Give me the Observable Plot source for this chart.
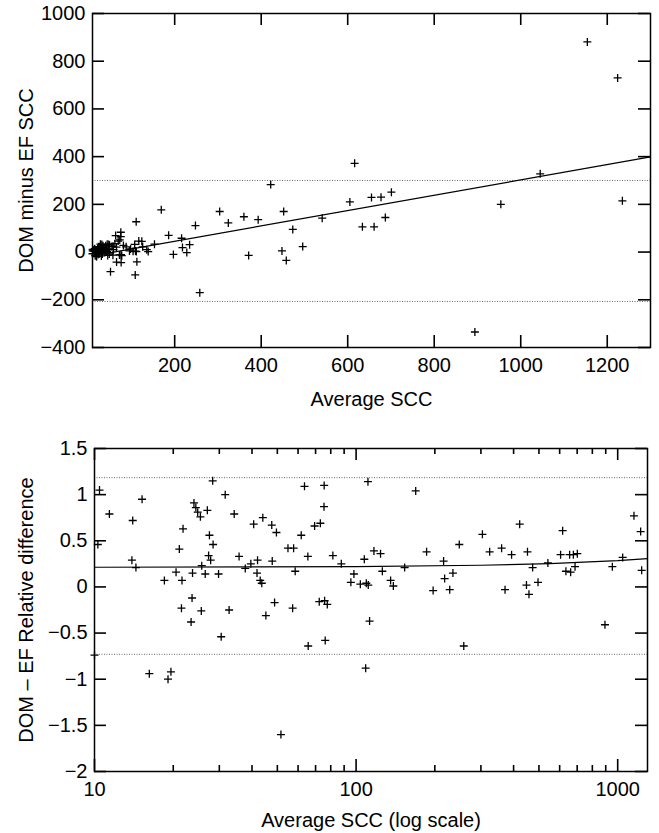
<!DOCTYPE html>
<html>
<head>
<meta charset="utf-8">
<script src="https://cdn.jsdelivr.net/npm/d3@7"></script>
<script src="https://cdn.jsdelivr.net/npm/@observablehq/plot@0.6"></script>
<style>
  html, body { margin: 0; padding: 0; background: #fff; overflow: hidden; }
  #chart { font-family: 'Liberation Sans', Arial, sans-serif; }
  #chart svg { display: block; }
</style>
</head>
<body>
<div id="chart"></div>
<script>
// Average SCC of the two methods (x), relative difference (bottom panel), absolute difference (top panel)
const avg = [10.45, 10.3, 10.0, 11.4, 14.0, 13.9, 14.4, 15.2, 16.2, 18.5,
  19.1, 19.6, 20.5, 21.1, 21.5, 21.6, 21.8, 23.4, 23.6, 23.7,
  24.0, 24.4, 24.8, 25.4, 25.6, 25.7, 26.5, 27.0, 27.3, 27.5,
  27.8, 28.3, 28.4, 29.8, 30.5, 31.6, 32.7, 34.2, 35.7, 37.7,
  39.6, 40.6, 41.8, 42.0, 43.0, 43.6, 44.0, 45.2, 47.6, 47.8,
  48.8, 49.6, 51.6, 54.9, 57.2, 57.7, 58.5, 61.7, 63.5, 65.4,
  65.6, 69.4, 72.3, 73.0, 75.5, 75.4, 75.8, 76.2, 77.6, 81.5,
  87.8, 95.5, 98.1, 103.8, 107.5, 108.8, 109.4, 111.0, 111.3, 112.6,
  117, 124, 126, 135.5, 138.8, 153.3, 169, 186, 197, 216,
  218, 228, 234.5, 248, 258, 304, 324, 360, 371, 393,
  422, 448, 452, 458, 473, 496, 541, 605, 616, 634,
  655, 661, 677, 687, 701, 894, 954, 1045, 1154, 1224, 1235];
const rel = [1.05, 0.46, -0.74, 0.79, 0.72, 0.29, 0.21, 0.95, -0.94, 0.07,
  -1.0, -0.92, 0.16, 0.41, -0.23, 0.07, 0.63, -0.38, -0.12, 0.15,
  0.91, 0.86, 0.81, 0.76, -0.26, 0.23, 0.14, 0.83, 0.34, 0.56,
  0.29, 1.15, 0.46, 0.14, -0.54, 1.0, -0.25, 0.79, 0.33, 0.2,
  0.25, 0.68, 0.15, 0.29, 0.07, 0.04, 0.75, -0.31, 0.67, 0.28,
  -0.17, 0.59, -1.6, 0.42, -0.23, 0.42, 0.17, 0.56, 1.09, 0.33,
  -0.64, 0.66, -0.16, 0.69, 1.1, 0.87, -0.15, -0.58, -0.19, 0.34,
  0.25, 0.05, 0.14, 0.03, 0.30, -0.88, 0.04, 1.14, 0.02, -0.37,
  0.39, 0.36, 0.17, 0.07, 0.01, 0.21, 1.04, 0.38, -0.04, 0.28,
  0.09, -0.03, 0.15, 0.46, -0.64, 0.57, 0.38, 0.42, -0.03, 0.35,
  0.68, 0.02, 0.38, -0.08, 0.21, 0.05, 0.26, 0.35, 0.61, 0.17,
  0.35, 0.16, 0.35, 0.22, 0.36, -0.41, 0.22, 0.32, 0.77, 0.60, 0.18];
const diff = [11, 5, -7, 9, 10, 4, 3, 14, -15, 1,
  -19, -18, 3, 9, -5, 2, 14, -9, -3, 4,
  22, 21, 20, 19, -7, 6, 4, 22, 9, 15,
  8, 33, 13, 4, -16, 32, -8, 27, 12, 8,
  10, 27, 6, 12, 3, 2, 33, -14, 32, 13,
  -8, 29, -82, 23, -13, 24, 10, 35, 69, 21,
  -42, 46, -12, 51, 83, 65, -11, -44, -15, 28,
  22, 5, 13, 3, 32, -96, 4, 127, 2, -41,
  46, 45, 22, 10, 2, 33, 177, 70, -10, 58,
  19, -2, 31, 111, -170, 170, 122, 148, -14, 136,
  283, 5, 170, -35, 95, 23, 142, 210, 372, 106,
  229, 106, 230, 145, 251, -335, 200, 328, 881, 730, 215];

// Regression lines and limits of agreement
const fitTopX = [10, 1300];
const fitTopY = [-16, 399];
const fitRelX = [10, 100, 300, 550, 1000, 1300];
const fitRelY = [0.213, 0.22, 0.235, 0.253, 0.285, 0.307];
const limitsTop = [300, -207];
const limitsRel = [1.184, -0.73];

// Tick values
const topXTicks = [200, 400, 600, 800, 1000, 1200];
const topYTicks = [-400, -200, 0, 200, 400, 600, 800, 1000];
const relXMajor = [10, 100, 1000];
const relXMinor = [20, 30, 40, 50, 60, 70, 80, 90, 200, 300, 400, 500, 600, 700, 800, 900];
const relYTicks = [-2, -1.5, -1, -0.5, 0, 0.5, 1, 1.5];

const data = avg.map((a, i) => ({avg: a, rel: rel[i], diff: diff[i]}));
const fitTop = fitTopX.map((x, i) => ({x, y: fitTopY[i]}));
const fitRel = fitRelX.map((x, i) => ({x, y: fitRelY[i]}));

const cross = {
  draw(ctx, size) {
    const h = Math.sqrt(size / Math.PI);
    ctx.moveTo(-h, 0); ctx.lineTo(h, 0);
    ctx.moveTo(0, -h); ctx.lineTo(0, h);
  }
};
const fmt = d => d < 0 ? "\u2212" + String(-d) : String(d);
const dotted = {stroke: "#444", strokeWidth: 0.8, strokeDasharray: "1,1.5"};
const tk = {stroke: "black", strokeWidth: 1.6};

// inward, mirrored ticks as rule marks shortened with insets
function tickMarks(xTicks, yTicks, innerW, innerH, len, xMinor, minorLen) {
  const m = [
    Plot.ruleX(xTicks, {...tk, insetTop: innerH - len}),
    Plot.ruleX(xTicks, {...tk, insetBottom: innerH - len}),
    Plot.ruleY(yTicks, {...tk, insetRight: innerW - len}),
    Plot.ruleY(yTicks, {...tk, insetLeft: innerW - len})
  ];
  if (xMinor) {
    m.push(Plot.ruleX(xMinor, {...tk, insetTop: innerH - minorLen}));
    m.push(Plot.ruleX(xMinor, {...tk, insetBottom: innerH - minorLen}));
  }
  return m;
}

const W = 659;

// ---------- Top panel ----------
const tp = {h: 420, ml: 92, mr: 9, mt: 13, mb: 73};
const topPanel = Plot.plot({
  width: W, height: tp.h,
  marginLeft: tp.ml, marginRight: tp.mr, marginTop: tp.mt, marginBottom: tp.mb,
  style: {fontFamily: "'Liberation Sans', Arial, sans-serif", fontSize: "20px"},
  x: {type: "linear", domain: [10, 1300]},
  y: {type: "linear", domain: [-400, 1000]},
  marks: [
    Plot.ruleY(limitsTop, dotted),
    Plot.line(fitTop, {x: "x", y: "y", stroke: "black", strokeWidth: 1.2}),
    Plot.dot(data, {x: "avg", y: "diff", symbol: cross, r: 4, fill: "none", stroke: "black", strokeWidth: 1.3}),
    tickMarks(topXTicks, topYTicks, W - tp.ml - tp.mr, tp.h - tp.mt - tp.mb, 12, null, 0),
    Plot.axisX(topXTicks, {tickSize: 0, tickPadding: 10, tickFormat: fmt, label: "Average SCC", labelAnchor: "center", labelArrow: "none", labelOffset: 58}),
    Plot.axisY(topYTicks, {tickSize: 0, tickPadding: 7, tickFormat: fmt, label: "DOM minus EF SCC", labelAnchor: "center", labelArrow: "none", labelOffset: 74}),
    Plot.frame({stroke: "black", strokeWidth: 1.5})
  ]
});

// ---------- Bottom panel ----------
const bp = {h: 413, ml: 94, mr: 12, mt: 28, mb: 62};
const bottomPanel = Plot.plot({
  width: W, height: bp.h,
  marginLeft: bp.ml, marginRight: bp.mr, marginTop: bp.mt, marginBottom: bp.mb,
  style: {fontFamily: "'Liberation Sans', Arial, sans-serif", fontSize: "20px"},
  x: {type: "log", domain: [10, 1300]},
  y: {type: "linear", domain: [-2, 1.5]},
  marks: [
    Plot.ruleY(limitsRel, dotted),
    Plot.line(fitRel, {x: "x", y: "y", stroke: "black", strokeWidth: 1.2}),
    Plot.dot(data, {x: "avg", y: "rel", symbol: cross, r: 4, fill: "none", stroke: "black", strokeWidth: 1.3}),
    tickMarks(relXMajor, relYTicks, W - bp.ml - bp.mr, bp.h - bp.mt - bp.mb, 12, relXMinor, 6),
    Plot.axisX(relXMajor, {tickSize: 0, tickPadding: 10, tickFormat: d => String(d), label: "Average SCC (log scale)", labelAnchor: "center", labelArrow: "none", labelOffset: 55}),
    Plot.axisY(relYTicks, {tickSize: 0, tickPadding: 7, tickFormat: fmt, label: "DOM \u2013 EF Relative difference", labelAnchor: "center", labelArrow: "none", labelOffset: 76}),
    Plot.frame({stroke: "black", strokeWidth: 1.5})
  ]
});

const chart = document.getElementById("chart");
chart.appendChild(topPanel);
chart.appendChild(bottomPanel);
</script>
</body>
</html>
